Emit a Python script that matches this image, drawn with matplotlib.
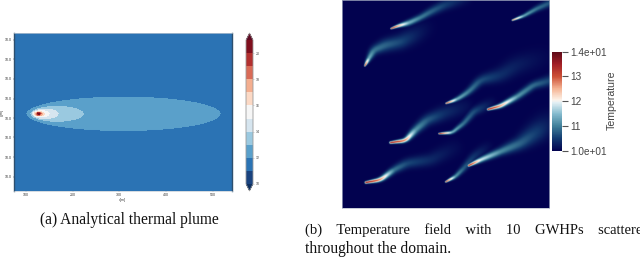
import numpy as np
import matplotlib
matplotlib.use("Agg")
import matplotlib.pyplot as plt
from matplotlib.colors import ListedColormap, BoundaryNorm, LinearSegmentedColormap

W, H = 640, 257

# ---- panel (a): analytical plume, contour extents (x0, x1, half height)
plume_levels = [1, 2, 3, 4, 5, 6, 7, 8, 9, 10]
plume_x0 = [78, 90, 95, 97, 100, 104, 107, 109, 111, 112]
plume_x1 = [664, 251, 175, 148, 134, 128, 124, 121, 119, 118]
plume_hh = [52, 24, 16, 11, 8, 7, 6, 5, 4, 3]
plume_y0 = 281
a_xticks = [78, 218, 358, 498, 640]
a_yticks = [58, 117, 176, 235, 294, 352, 411, 470]
a_xlabels = ["100", "200", "300", "400", "500"]
a_ylabels = ["10.0", "10.0", "10.0", "10.0", "10.0", "10.0", "10.0", "10.0"]
cb_colors = ["#1a437f", "#2b73b4", "#5aa0cb", "#9bc9e0", "#d6e5ef", "#f6f6f6",
             "#fcd9c5", "#f4ae8f", "#d96b57", "#b2302f", "#7f0f1e"]
cb_under = "#0d2f60"
cb_over = "#5e0a22"
cb_ticklabels = ["10", "12", "14", "16", "18", "20"]

# ---- panel (b): plume centre lines (x, y in the panel), temperature and width along them
plumes = [
    ([182, 200, 235, 270, 300, 340, 400], [85, 78, 68, 52, 35, 15, -5],
     [13.5, 12.7, 11.4, 11.0, 10.8, 10.55, 10.2], [2, 4, 8, 9, 11, 14, 18]),
    ([103, 115, 130, 165, 210, 250, 290], [197, 175, 150, 135, 125, 105, 80],
     [13.4, 11.4, 10.95, 10.8, 10.6, 10.3, 10.05], [2, 7, 12, 17, 20, 24, 26]),
    ([546, 580, 620, 665], [60, 47, 25, 5],
     [13.0, 11.3, 10.9, 10.65], [2, 5, 8, 11]),
    ([347, 380, 415, 450, 510, 560, 640], [310, 298, 275, 240, 225, 195, 170],
     [13.4, 11.4, 11.0, 10.65, 10.4, 10.25, 10.05], [2, 6, 9, 13, 20, 26, 32]),
    ([473, 510, 560, 610, 665], [328, 318, 290, 255, 240],
     [13.6, 12.6, 11.2, 10.85, 10.55], [3, 6, 9, 11, 15]),
    ([180, 225, 255, 290, 340, 400], [428, 422, 390, 360, 340, 320],
     [13.7, 12.7, 11.2, 10.75, 10.4, 10.15], [3, 6, 11, 15, 20, 24]),
    ([326, 365, 400, 430, 480], [401, 398, 370, 335, 310],
     [13.6, 11.4, 10.9, 10.65, 10.15], [2, 5, 8, 11, 16]),
    ([415, 450, 510, 570, 620, 650], [497, 480, 455, 430, 395, 370],
     [13.5, 11.9, 11.1, 10.8, 10.5, 10.2], [3, 7, 11, 18, 28, 34]),
    ([346, 375, 400, 430, 470], [546, 530, 505, 470, 440],
     [13.4, 11.2, 10.75, 10.45, 10.1], [2, 6, 9, 12, 16]),
    ([106, 150, 190, 230, 300, 370], [548, 540, 510, 490, 480, 445],
     [13.8, 12.7, 10.95, 10.6, 10.35, 10.1], [3, 6, 10, 14, 18, 24]),
]
temp_stops = [10.0, 10.5, 11.0, 11.5, 11.95, 12.05, 12.5, 13.0, 13.5, 14.0]
temp_colors = ["#03024f", "#123a70", "#3f7f99", "#86bccf", "#e4f0f4", "#fdf3ea",
               "#f5b595", "#cc4f35", "#a11f26", "#5c0a18"]
b_ticks = [10, 11, 12, 13, 14]
b_ticklabels = ["1.0e+01", "11", "12", "13", "1.4e+01"]

plt.rcParams["font.family"] = ["Liberation Sans", "DejaVu Sans"]
fig = plt.figure(figsize=(W / 100, H / 100), dpi=100)


def box(x0, y0, x1, y1):
    return [x0 / W, 1 - y1 / H, (x1 - x0) / W, (y1 - y0) / H]


# --- panel (a)
ax = fig.add_axes(box(14, 33, 232, 191))
xs = np.linspace(42, 697, 218)
ys = np.linspace(38, 513, 158)
X, Y = np.meshgrid(xs, ys)
Z = np.zeros_like(X)
for lev, x0, x1, hh in zip(plume_levels, plume_x0, plume_x1, plume_hh):
    cx = (x0 + x1) / 2
    rx = (x1 - x0) / 2
    inside = ((X - cx) / rx) ** 2 + ((Y - plume_y0) / hh) ** 2 <= 1
    Z[inside] = lev
a_cmap = ListedColormap(cb_colors[1:])
ax.imshow(Z, cmap=a_cmap, vmin=-0.5, vmax=9.5, extent=(42, 697, 513, 38),
          aspect="auto", interpolation="bilinear", interpolation_stage="rgba")
ax.set_xticks(a_xticks, a_xlabels)
ax.set_yticks(a_yticks, a_ylabels)
ax.tick_params(labelsize=2.6, length=0.8, width=0.3, pad=0.8, colors="#333333")
ax.set_xlabel("x[m]", fontsize=2.6, labelpad=0.2, color="#333333")
ax.set_ylabel("y[m]", fontsize=2.6, labelpad=0.6, color="#333333")
for s in ("left", "right"):
    ax.spines[s].set_color("#2d4f6e")
    ax.spines[s].set_linewidth(1.0)
for s in ("top", "bottom"):
    ax.spines[s].set_color("#c4ccd4")
    ax.spines[s].set_linewidth(0.5)

# --- colourbar of panel (a)
cax = fig.add_axes(box(246, 33, 253, 191))
bounds = np.arange(len(cb_colors) + 1)
c_cmap = ListedColormap(cb_colors).with_extremes(under=cb_under, over=cb_over)
sm = plt.cm.ScalarMappable(norm=BoundaryNorm(bounds, len(cb_colors)), cmap=c_cmap)
cb = fig.colorbar(sm, cax=cax, extend="both", extendfrac=0.049, drawedges=False,
                  spacing="proportional")
cb.set_ticks([0, 2, 4, 6, 8, 10], labels=cb_ticklabels)
cb.ax.minorticks_off()
cb.ax.tick_params(which="both", labelsize=2.6, length=0.6, width=0.25, pad=1.2, colors="#444444")
cb.outline.set_edgecolor("#9a9a9a")
cb.outline.set_linewidth(0.6)

# --- panel (b)
bx = fig.add_axes(box(341.7, 0, 549.3, 208))
n = 416
gx = np.linspace(35, 658, n)
gy = np.linspace(0, 624, n)
GX, GY = np.meshgrid(gx, gy)
T = np.full_like(GX, 10.0)
kernel = np.ones(31) / 31
for px, py, pt, pw in plumes:
    px, py, pt, pw = map(np.asarray, (px, py, pt, pw))
    d = np.r_[0, np.cumsum(np.hypot(np.diff(px), np.diff(py)))]
    s = np.linspace(0, d[-1], 300)
    sx, sy = np.interp(s, d, px), np.interp(s, d, py)
    st, sw = np.interp(s, d, pt), np.interp(s, d, pw)
    # round off the corners of the read polyline, keeping the end points
    sx2 = np.convolve(np.pad(sx, 15, mode="reflect", reflect_type="odd"), kernel, "valid")
    sy2 = np.convolve(np.pad(sy, 15, mode="reflect", reflect_type="odd"), kernel, "valid")
    for a, b, t, w in zip(sx2, sy2, st, sw):
        field = 10 + (t - 10) * np.exp(-((GX - a) ** 2 + (GY - b) ** 2) / (2 * (w * 0.75) ** 2))
        T = np.maximum(T, field)
stops = [(v - 10) / 4 for v in temp_stops]
t_cmap = LinearSegmentedColormap.from_list("temp", list(zip(stops, temp_colors)))
bx.imshow(T, cmap=t_cmap, vmin=10, vmax=14, extent=(35, 658, 624, 0), aspect="auto",
          interpolation="bilinear")
bx.set_xticks([])
bx.set_yticks([])
for sp in bx.spines.values():
    sp.set_color("#aeb6c8")
    sp.set_linewidth(0.5)

# --- colourbar of panel (b)
dax = fig.add_axes(box(552, 51.5, 561.5, 151))
sm2 = plt.cm.ScalarMappable(norm=plt.Normalize(10, 14), cmap=t_cmap)
cb2 = fig.colorbar(sm2, cax=dax)
cb2.set_ticks(b_ticks, labels=b_ticklabels)
cb2.ax.minorticks_off()
cb2.ax.tick_params(labelsize=7.2, length=4, width=0.8, pad=2.5,
                   color="#555555", labelcolor="#444444")
cb2.outline.set_visible(False)
fig.text(611.5 / W, 1 - 100 / H, "Temperature", rotation=90, ha="center", va="center",
         fontsize=7.6, color="#444444")

# --- captions
serif = ["Liberation Serif", "DejaVu Serif"]
fig.text(40 / W, 1 - 220 / H, "(a) Analytical thermal plume", family=serif, fontsize=11.2,
         va="center", color="#111111")
fig.text(305 / W, 1 - 230.5 / H, "(b)    Temperature    field    with    10    GWHPs    scattered",
         family=serif, fontsize=10.5, va="center", color="#111111")
fig.text(305 / W, 1 - 249 / H, "throughout the domain.", family=serif, fontsize=11.2,
         va="center", color="#111111")

fig.savefig("out.png", dpi=100)
